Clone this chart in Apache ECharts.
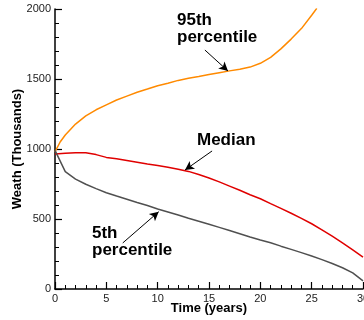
<!DOCTYPE html>
<html>
<head>
<meta charset="utf-8">
<script src="https://cdn.jsdelivr.net/npm/echarts@6/dist/echarts.min.js"></script>
<style>html,body{margin:0;padding:0;background:#fff;}#c{width:364px;height:320px;}</style>
</head>
<body>
<div id="c"></div>
<script>
var years = [0,1,2,3,4,5,6,7,8,9,10,11,12,13,14,15,16,17,18,19,20,21,22,23,24,25,26,27,28,29,30];
var p95Years = [0,0.5,1,2,3,4,5,6,7,8,9,10,11,12,13,14,15,16,17,18,19,20,21,22,23,24,25,25.5];
var p95 = [980,1050,1100,1178,1236,1280,1315,1350,1378,1405,1428,1452,1470,1490,1505,1518,1532,1545,1558,1570,1585,1612,1655,1715,1785,1860,1955,2005];
var median = [965,970,973,973,960,940,930,918,906,893,882,870,856,840,818,793,765,735,705,673,645,610,576,541,505,466,423,378,330,280,228];
var p5 = [990,838,785,748,717,688,664,641,618,596,572,550,528,505,484,462,440,418,395,372,350,330,306,283,260,236,210,182,152,115,58];
var xTicks = {min:0, max:30, interval:5};
var yTicks = {min:0, max:2000, interval:500};
var arrows = {
  p95: [[14.6,1707],[16.85,1557]],
  median: [[15.3,986],[12.66,850]],
  p5: [[6.6,329],[10.1,552]]
};

function pairs(xs, ys){ return xs.map(function(x,i){ return [x, ys[i]]; }); }
function arrowML(a){
  return {
    silent:true, symbol:['none','arrow'], symbolSize:[7,9],
    lineStyle:{color:'#000', width:1, type:'solid'},
    label:{show:false},
    data:[[{coord:a[0]},{coord:a[1]}]]
  };
}
var annFont = {fontFamily:'Liberation Sans, Arial, sans-serif', fontWeight:'bold', fontSize:17, lineHeight:17, fill:'#000'};
function txt(t,l,tp){ return {type:'text', left:l, top:tp, style:Object.assign({text:t}, annFont)}; }
function plain(v){ return String(v); }

var chart = echarts.init(document.getElementById('c'));
chart.setOption({
  animation:false,
  backgroundColor:'#fff',
  grid:{left:55, right:1, top:9, bottom:31, containLabel:false, outerBoundsMode:'none'},
  xAxis:{
    type:'value', min:xTicks.min, max:xTicks.max, interval:xTicks.interval,
    name:'Time (years)', nameLocation:'middle', nameGap:13, nameMoveOverlap:false,
    nameTextStyle:{fontFamily:'Liberation Sans, Arial, sans-serif', fontWeight:'bold', fontSize:13, color:'#000'},
    axisLine:{lineStyle:{color:'#000', width:1.5}},
    axisTick:{inside:true, length:7, lineStyle:{color:'#000', width:1.2}},
    minorTick:{show:true, splitNumber:5, length:4, lineStyle:{color:'#000', width:1}},
    axisLabel:{fontFamily:'Liberation Sans, Arial, sans-serif', fontSize:11, color:'#222', margin:4, formatter:plain},
    splitLine:{show:false}
  },
  yAxis:{
    type:'value', min:yTicks.min, max:yTicks.max, interval:yTicks.interval,
    name:'Weath (Thousands)', nameLocation:'middle', nameGap:31, nameMoveOverlap:false,
    nameTextStyle:{fontFamily:'Liberation Sans, Arial, sans-serif', fontWeight:'bold', fontSize:13, color:'#000'},
    axisLine:{show:true, lineStyle:{color:'#000', width:1.5}},
    axisTick:{show:true, inside:true, length:7, lineStyle:{color:'#000', width:1.2}},
    minorTick:{show:true, splitNumber:5, length:4, lineStyle:{color:'#000', width:1}},
    axisLabel:{fontFamily:'Liberation Sans, Arial, sans-serif', fontSize:11, color:'#222', margin:4, formatter:plain},
    splitLine:{show:false}
  },
  series:[
    {type:'line', name:'95th percentile', data:pairs(p95Years,p95), showSymbol:false, smooth:false,
     lineStyle:{color:'#ff8a00', width:1.5}, clip:true, markLine:arrowML(arrows.p95)},
    {type:'line', name:'Median', data:pairs(years,median), showSymbol:false, smooth:false,
     lineStyle:{color:'#e00000', width:1.5}, markLine:arrowML(arrows.median)},
    {type:'line', name:'5th percentile', data:pairs(years,p5), showSymbol:false, smooth:false,
     lineStyle:{color:'#505050', width:1.5}, markLine:arrowML(arrows.p5)}
  ],
  graphic:[
    txt('95th\npercentile',177,12),
    txt('Median',197,132),
    txt('5th\npercentile',92,225)
  ]
});
</script>
</body>
</html>
